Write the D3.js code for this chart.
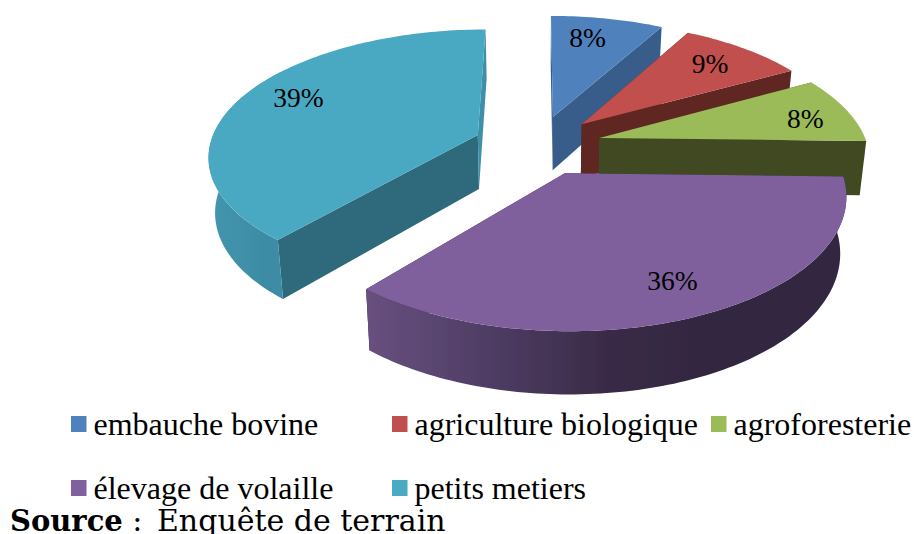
<!DOCTYPE html>
<html>
<head>
<meta charset="utf-8">
<script src="https://cdn.jsdelivr.net/npm/d3@7"></script>
<style>
  html, body { margin: 0; padding: 0; background: #fff; overflow: hidden; }
  text { font-family: "Liberation Serif", serif; fill: #000; }
</style>
</head>
<body>
<div id="chart"></div>
<script>
const categories = ["embauche bovine", "agriculture biologique", "agroforesterie", "élevage de volaille", "petits metiers"];
// labels are rounded, the decimals are estimated from the slice angles
const shares = [8.0, 8.9, 8.5, 35.7, 38.9];
const shareLabels = ["8%", "9%", "8%", "36%", "39%"];

const topColors = ["#4f81bd", "#c0504d", "#9bbb59", "#7f619d", "#4aa9c3"];
const startWallColors = ["#385d8a", "#5e2524", "#3f4a22", "#30263f", "#2f6a7b"];
const endWallColors = ["#385d8a", "#5e2524", "#3f4a22", "#30263f", "#408fa8"];
const rimStops = [null, null, null, ["#68507f", "#4f3d65", "#3a2b47", "#30263f", "#30263f"], ["#4497af", "#4092aa", "#3f8fa8", "#3d8ba4", "#3d8ba4"]];

// Excel's best fit moves the labels a little off the mid angle
const labelNudgeX = [-9, -1, 12, 4, 5];
const labelNudgeY = [0, 0, 3, 1, -6];

const width = 914, height = 534;

// Perspective of the exploded pie, all in unit-radius ground coordinates
const cx = 537.5, cy = 145, rx = 268, ry = 124.4;
const persp = 0.1525, explode = 0.24, thickness = 54.5, bottomShrink = 0.98, labelRadius = 0.78;

function project(u, v, lowered) {
  const s = 1 / (1 - persp * v);
  const px = rx * u * s;
  const py = ry * v * s;
  if (!lowered) return [cx + px, cy + py];
  return [cx + px * bottomShrink, cy + py * bottomShrink + thickness * s];
}

function polar(slice, angle, r, lowered) {
  const mid = (slice.startAngle + slice.endAngle) / 2;
  const u = r * Math.sin(angle) + explode * Math.sin(mid);
  const v = -r * Math.cos(angle) - explode * Math.cos(mid);
  return project(u, v, lowered);
}

function arcAngles(a0, a1) {
  const steps = Math.max(2, Math.ceil((a1 - a0) / 0.02));
  return d3.range(steps + 1).map((i) => a0 + ((a1 - a0) * i) / steps);
}

const svg = d3.select("#chart").append("svg").attr("width", width).attr("height", height);
const defs = svg.append("defs");
defs.append("filter").attr("id", "soft").append("feGaussianBlur").attr("stdDeviation", 0.45);
const linePath = d3.line();
const slices = d3.pie().sort(null).value((d) => d)(shares);

const pieGroup = svg.append("g").attr("filter", "url(#soft)");

slices.forEach((slice, i) => {
  const g = pieGroup.append("g");

  // Flat cut faces first, they sit behind the rim
  [[slice.startAngle, startWallColors[i]], [slice.endAngle, endWallColors[i]]].forEach(([angle, color]) => {
    g.append("path")
      .attr("d", linePath([
        polar(slice, 0, 0, false),
        polar(slice, angle, 1, false),
        polar(slice, angle, 1, true),
        polar(slice, 0, 0, true),
      ]) + "Z")
      .attr("fill", color);
  });

  // Rim, only the part turned to the viewer (a bit past 270 deg for the silhouette)
  const a0 = Math.max(slice.startAngle, Math.PI / 2);
  const a1 = Math.min(slice.endAngle, (Math.PI * 3) / 2 + 0.6);
  if (a1 > a0 && rimStops[i]) {
    const angles = arcAngles(a0, a1);
    const upper = angles.map((a) => polar(slice, a, 1, false));
    const lower = angles.map((a) => polar(slice, a, 1, true)).reverse();
    const xs = upper.concat(lower).map((p) => p[0]);
    const gradId = "rim" + i;
    const x = d3.scaleLinear().domain([0, rimStops[i].length - 1]).range(d3.extent(xs));
    defs.append("linearGradient")
      .attr("id", gradId)
      .attr("gradientUnits", "userSpaceOnUse")
      .attr("x1", x(0)).attr("x2", x(rimStops[i].length - 1))
      .attr("y1", 0).attr("y2", 0)
      .selectAll("stop")
      .data(rimStops[i])
      .enter()
      .append("stop")
      .attr("offset", (d, k) => k / (rimStops[i].length - 1))
      .attr("stop-color", (d) => d);
    g.append("path")
      .attr("d", linePath(upper.concat(lower)) + "Z")
      .attr("fill", `url(#${gradId})`);
  }

  // Top face
  const outline = [polar(slice, 0, 0, false)].concat(
    arcAngles(slice.startAngle, slice.endAngle).map((a) => polar(slice, a, 1, false))
  );
  g.append("path").attr("d", linePath(outline) + "Z").attr("fill", topColors[i]);
});

// Percent labels
slices.forEach((slice, i) => {
  const mid = (slice.startAngle + slice.endAngle) / 2;
  const p = polar(slice, mid, labelRadius, false);
  svg.append("text")
    .attr("x", p[0] + labelNudgeX[i])
    .attr("y", p[1] + 9 + labelNudgeY[i])
    .attr("text-anchor", "middle")
    .attr("font-size", 27.5)
    .text(shareLabels[i]);
});

// Legend
const legendX = [71, 392, 711, 71, 392];
const legendY = [416, 416, 416, 480, 480];
const legend = svg.append("g");
categories.forEach((name, i) => {
  legend.append("rect")
    .attr("x", legendX[i]).attr("y", legendY[i])
    .attr("width", 15.5).attr("height", 16)
    .attr("fill", topColors[i]);
  legend.append("text")
    .attr("x", legendX[i] + 22.5).attr("y", legendY[i] + 19)
    .attr("font-size", 32)
    .text(name);
});

// Source line
const source = svg.append("text")
  .attr("x", 10).attr("y", 531)
  .attr("font-size", 30)
  .style("font-family", "'DejaVu Serif', serif");
source.append("tspan").attr("font-weight", "bold").attr("font-size", 29).text("Source");
source.append("tspan").text(" :");
source.append("tspan").attr("dx", 5).text(" Enquête de terrain");
</script>
</body>
</html>
